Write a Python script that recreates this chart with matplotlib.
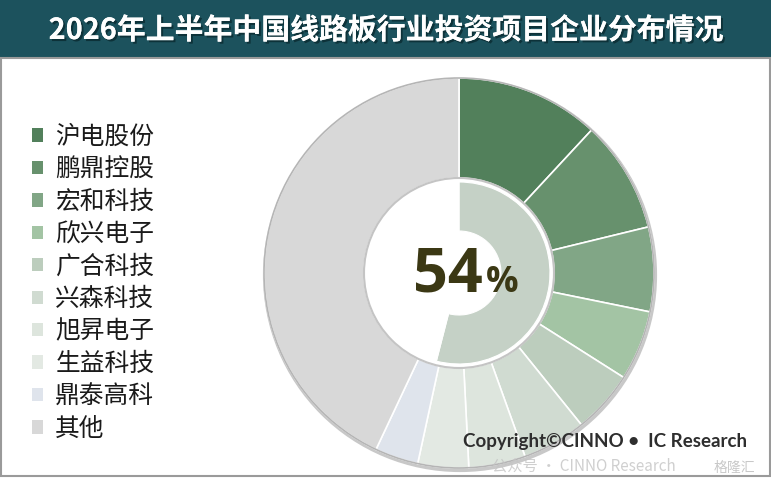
import matplotlib
matplotlib.use("Agg")
import matplotlib.pyplot as plt
from matplotlib.patches import Rectangle, Circle, Patch
import matplotlib.patheffects as pe

plt.rcParams['font.family'] = ['Noto Sans CJK SC', 'DejaVu Sans']

title = "2026年上半年中国线路板行业投资项目企业分布情况"
companies = ["沪电股份", "鹏鼎控股", "宏和科技", "欣兴电子", "广合科技",
             "兴森科技", "旭昇电子", "生益科技", "鼎泰高科", "其他"]
shares = [11.9, 9.3, 7.0, 5.8, 5.2, 5.3, 4.7, 4.2, 3.6, 43.0]
colors = ["#52805b", "#67916d", "#81a686", "#a3c4a4", "#bccdbd",
          "#d0dbd1", "#dde5dd", "#e3e9e3", "#dfe4ec", "#d8d8d8"]
inner_values = [54, 46]
center_label = "54"

W, H = 771, 478
fig = plt.figure(figsize=(W / 100, H / 100), dpi=100)
ax = fig.add_axes([0, 0, 1, 1])

cx, cy = 459, H - 273
R = 195

# outer ring
wedges, _ = ax.pie(shares, colors=colors, startangle=90, counterclock=False,
                   center=(cx, cy), radius=R,
                   wedgeprops=dict(width=R - 95, edgecolor="white", linewidth=1.2))
ax.add_patch(Circle((cx + 1, cy - 2), R, fill=False, edgecolor="#c8c8c8", linewidth=3, zorder=0.5))
ax.add_patch(Circle((cx, cy), R, fill=False, edgecolor="#b5b5b5", linewidth=1.2, zorder=3))
ax.add_patch(Circle((cx, cy), 95, facecolor="white", edgecolor="#c4c4c4", linewidth=1.5, zorder=3))

# inner ring
ax.pie(inner_values, colors=["#c5d1c6", "white"], startangle=90, counterclock=False,
       center=(cx, cy), radius=91,
       wedgeprops=dict(width=49, edgecolor="white", linewidth=0.8, zorder=4))
for p in ax.patches[-2:]:
    p.set_zorder(4)

ax.text(483, H - 292, center_label, ha="right", va="baseline", fontsize=44,
        fontweight="bold", color="#3b3814", family=["Open Sans", "DejaVu Sans"], zorder=6)
ax.text(486, H - 292, "%", ha="left", va="baseline", fontsize=26,
        fontweight="bold", color="#3b3814", family=["Open Sans", "DejaVu Sans"], zorder=6)

# title bar
ax.add_patch(Rectangle((0, H - 58), W, 58, facecolor="#1c525d", edgecolor="none", zorder=7))
ax.text(386, H - 30, title, ha="center", va="center", color="white", fontsize=20.8,
        fontweight="bold", zorder=8,
        path_effects=[pe.withSimplePatchShadow(offset=(1.5, -1.5), shadow_rgbFace="#0a2a30", alpha=0.8), pe.Normal()])

# frame border
ax.add_patch(Rectangle((0.5, 2), W - 1.5, H - 60, fill=False, edgecolor="#9a9a9a", linewidth=1.5, zorder=7))

# legend
handles = [Patch(facecolor=c, edgecolor="none") for c in colors]
leg = ax.legend(handles, companies, loc="upper left", bbox_to_anchor=(22 / W, 1 - 114 / H),
                frameon=False, fontsize=17.8, handlelength=0.45, handleheight=0.45,
                handletextpad=0.5, labelspacing=0.26, borderaxespad=0)
for t in leg.get_texts():
    t.set_color("#1a1a1a")

# copyright
ax.text(492, H - 471, "公众号 · CINNO Research", ha="left", va="baseline", fontsize=11,
        color="#c4c4c4", alpha=0.8, zorder=8)
ax.text(463, H - 447, "Copyright©CINNO •  IC Research", ha="left", va="baseline", fontsize=13.5,
        fontweight="bold", color="#2e2e2e", family=["Lato", "DejaVu Sans"], zorder=9)
ax.text(714, H - 472, "格隆汇", ha="left", va="baseline", fontsize=10,
        color="#c8c8c8", zorder=9)

ax.set_xlim(0, W)
ax.set_ylim(0, H)
ax.set_aspect("equal")
ax.axis("off")

fig.savefig("out.png", dpi=100, facecolor="white")
